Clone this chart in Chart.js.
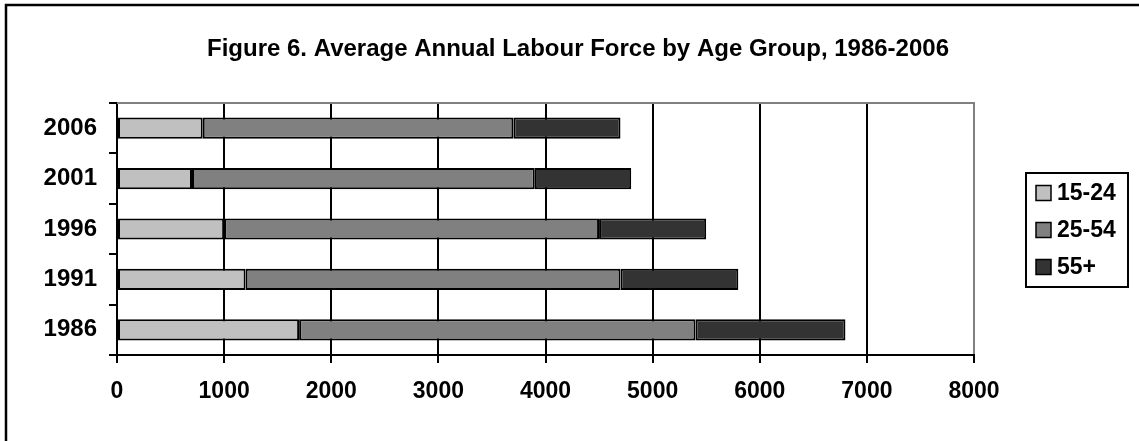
<!DOCTYPE html>
<html>
<head>
<meta charset="utf-8">
<title>Figure 6. Average Annual Labour Force by Age Group, 1986-2006</title>
<script src="https://cdn.jsdelivr.net/npm/chart.js@4/dist/chart.umd.min.js"></script>
<style>
  html, body { margin: 0; padding: 0; background: #ffffff; }
  #wrap { position: relative; width: 1139px; height: 441px; }
</style>
</head>
<body>
<div id="wrap"><canvas id="chart" width="1139" height="441"></canvas></div>
<script>
// Census years, listed top to bottom
const years = ['2006', '2001', '1996', '1991', '1986'];

// Labour force by age group (thousands)
const age15to24 = [800, 700, 1000, 1200, 1700];
const age25to54 = [2900, 3200, 3500, 3500, 3700];
const age55plus = [1000, 900, 1000, 1100, 1400];

const groupNames = ['15-24', '25-54', '55+'];
const groupColors = ['#c0c0c0', '#808080', '#333333'];

const xTicks = [0, 1000, 2000, 3000, 4000, 5000, 6000, 7000, 8000];
const xTickLabels = ['0', '1000', '2000', '3000', '4000', '5000', '6000', '7000', '8000'];

const chartTitle = 'Figure 6. Average Annual Labour Force by Age Group, 1986-2006';

const FONT = '"Liberation Sans", Arial, Helvetica, sans-serif';

// Outer frame of the figure (left and top edges)
const framePlugin = {
  id: 'frame',
  beforeDraw(chart) {
    const ctx = chart.ctx;
    ctx.save();
    ctx.fillStyle = '#ffffff';
    ctx.fillRect(0, 0, chart.width, chart.height);
    ctx.strokeStyle = '#000000';
    ctx.lineWidth = 2.5;
    ctx.beginPath();
    ctx.moveTo(6, chart.height);
    ctx.lineTo(6, 5);
    ctx.lineTo(chart.width, 5);
    ctx.stroke();
    ctx.restore();
  }
};

// Figure heading, centred over the whole figure area
const headingPlugin = {
  id: 'heading',
  afterDraw(chart) {
    const ctx = chart.ctx;
    ctx.save();
    ctx.font = 'bold 24px ' + FONT;
    ctx.fillStyle = '#000000';
    ctx.textAlign = 'center';
    ctx.textBaseline = 'alphabetic';
    ctx.fillText(chartTitle, 578, 56);
    ctx.restore();
  }
};

// Grey top edge of the plot area
const plotEdgePlugin = {
  id: 'plotEdge',
  beforeDatasetsDraw(chart) {
    const a = chart.chartArea;
    const ctx = chart.ctx;
    ctx.save();
    ctx.strokeStyle = '#808080';
    ctx.lineWidth = 2;
    ctx.beginPath();
    ctx.moveTo(a.left, a.top);
    ctx.lineTo(a.right + 1, a.top);
    ctx.stroke();
    ctx.restore();
  }
};

// Boxed legend to the right of the plot
const boxLegendPlugin = {
  id: 'boxLegend',
  afterDraw(chart) {
    const ctx = chart.ctx;
    const box = { x: 1026, y: 173, w: 102, h: 114 };
    const rowY = [193, 230, 267];
    ctx.save();
    ctx.strokeStyle = '#000000';
    ctx.lineWidth = 2;
    ctx.strokeRect(box.x, box.y, box.w, box.h);
    ctx.font = 'bold 23px ' + FONT;
    ctx.textBaseline = 'middle';
    ctx.textAlign = 'left';
    chart.data.datasets.forEach((ds, i) => {
      const cy = rowY[i];
      ctx.fillStyle = ds.backgroundColor;
      ctx.fillRect(1036, cy - 7.5, 15, 15);
      ctx.lineWidth = 1.5;
      ctx.strokeStyle = '#000000';
      ctx.strokeRect(1036, cy - 7.5, 15, 15);
      ctx.fillStyle = '#000000';
      ctx.fillText(ds.label, 1057, cy + 1);
    });
    ctx.restore();
  }
};

const seriesValues = [age15to24, age25to54, age55plus];

new Chart(document.getElementById('chart'), {
  type: 'bar',
  data: {
    labels: years,
    datasets: groupNames.map((name, i) => ({
      label: name,
      data: seriesValues[i],
      backgroundColor: groupColors[i],
      borderColor: '#000000',
      borderWidth: 2,
      borderSkipped: false,
      barPercentage: 0.42,
      categoryPercentage: 1.0
    }))
  },
  options: {
    indexAxis: 'y',
    responsive: false,
    animation: false,
    layout: { padding: { top: 103, right: 165, bottom: 0, left: 0 } },
    plugins: {
      legend: { display: false },
      tooltip: { enabled: false },
      title: { display: false }
    },
    scales: {
      x: {
        stacked: true,
        min: 0,
        max: 8000,
        afterBuildTicks(scale) {
          scale.ticks = xTicks.map(v => ({ value: v }));
        },
        afterFit(scale) { scale.height = 86; },
        ticks: {
          color: '#000000',
          font: { family: FONT, size: 23, weight: 'bold' },
          padding: 15,
          maxRotation: 0,
          callback: (value, index) => xTickLabels[index]
        },
        grid: {
          color: ctx => (ctx.tick && ctx.tick.value === 8000 ? '#808080' : '#000000'),
          lineWidth: 2,
          drawTicks: true,
          tickLength: 8,
          tickColor: '#000000',
          tickWidth: 2
        },
        border: { display: true, color: '#000000', width: 2 }
      },
      y: {
        stacked: true,
        afterFit(scale) { scale.width = 117; },
        ticks: {
          color: '#000000',
          font: { family: FONT, size: 24, weight: 'bold' },
          padding: 12
        },
        grid: {
          offset: true,
          drawOnChartArea: false,
          drawTicks: true,
          tickLength: 8,
          tickColor: '#000000',
          tickWidth: 2,
          lineWidth: 2,
          color: '#000000'
        },
        border: { display: true, color: '#000000', width: 2 }
      }
    }
  },
  plugins: [framePlugin, plotEdgePlugin, headingPlugin, boxLegendPlugin]
});
</script>
</body>
</html>
